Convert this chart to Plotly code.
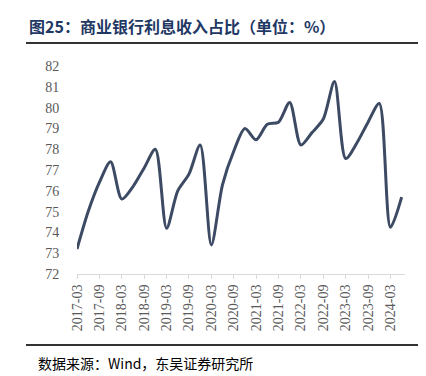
import plotly.graph_objects as go

quarters = ["2017-03","2017-06","2017-09","2017-12","2018-03","2018-06","2018-09","2018-12",
            "2019-03","2019-06","2019-09","2019-12","2020-03","2020-06","2020-09","2020-12",
            "2021-03","2021-06","2021-09","2021-12","2022-03","2022-06","2022-09","2022-12",
            "2023-03","2023-06","2023-09","2023-12","2024-03","2024-06"]
share = [73.2, 75.0, 76.4, 77.4, 75.6, 76.2, 77.1, 78.0,
         74.2, 76.0, 76.8, 78.2, 73.4, 76.3, 77.9, 79.0,
         78.45, 79.2, 79.3, 80.25, 78.2, 78.8, 79.45, 81.25,
         77.55, 78.3, 79.3, 80.2, 74.25, 75.7]
tick_labels = quarters[::2]
y_ticks = list(range(72, 83))

SERIF = "Liberation Serif, Times New Roman, DejaVu Serif, serif"

fig = go.Figure()
fig.add_trace(go.Scatter(x=quarters, y=share, mode="lines",
                         line=dict(color="#3C4A63", width=3, shape="spline", smoothing=0.8),
                         hoverinfo="skip"))

L, R, T, B = 69, 397, 58, 266
W, H = R - L, B - T
def px(x): return (x - L) / W
def py(y): return (B - y) / H

fig.update_layout(
    width=426, height=376,
    margin=dict(l=L, r=426 - R, t=T, b=376 - B, autoexpand=False),
    paper_bgcolor="white", plot_bgcolor="white",
    showlegend=False,
    xaxis=dict(type="category", range=[0, 29.3], tickmode="array", tickvals=tick_labels,
               ticktext=tick_labels, tickangle=-90, showgrid=False, showline=True,
               linecolor="#D9D9D9", linewidth=1, ticks="outside", ticklen=4,
               tickcolor="#D9D9D9", tickfont=dict(family=SERIF, size=14, color="#595959")),
    yaxis=dict(range=[72, 82], tickvals=y_ticks, showgrid=False, showline=False,
               zeroline=False, ticks="outside", ticklen=14, tickcolor="rgba(0,0,0,0)",
               tickfont=dict(family=SERIF, size=14, color="#595959")),
    shapes=[
        dict(type="line", xref="paper", yref="paper", x0=px(18), x1=px(422), y0=py(35), y1=py(35),
             line=dict(color="#333333", width=2)),
        dict(type="line", xref="paper", yref="paper", x0=px(18), x1=px(422), y0=py(337), y1=py(337),
             line=dict(color="#333333", width=2)),
    ],
    annotations=[
        dict(text="<b>图25：商业银行利息收入占比（单位：%）</b>", xref="paper", yref="paper",
             x=px(19), y=py(18), xanchor="left", yanchor="middle", showarrow=False,
             font=dict(family="Noto Sans CJK SC", size=16, color="#1F3864")),
        dict(text="数据来源：Wind，东吴证券研究所", xref="paper", yref="paper",
             x=px(28), y=py(355), xanchor="left", yanchor="middle", showarrow=False,
             font=dict(family="Noto Sans CJK SC", size=14, color="#000000")),
    ],
)
fig.write_html("out.html")
